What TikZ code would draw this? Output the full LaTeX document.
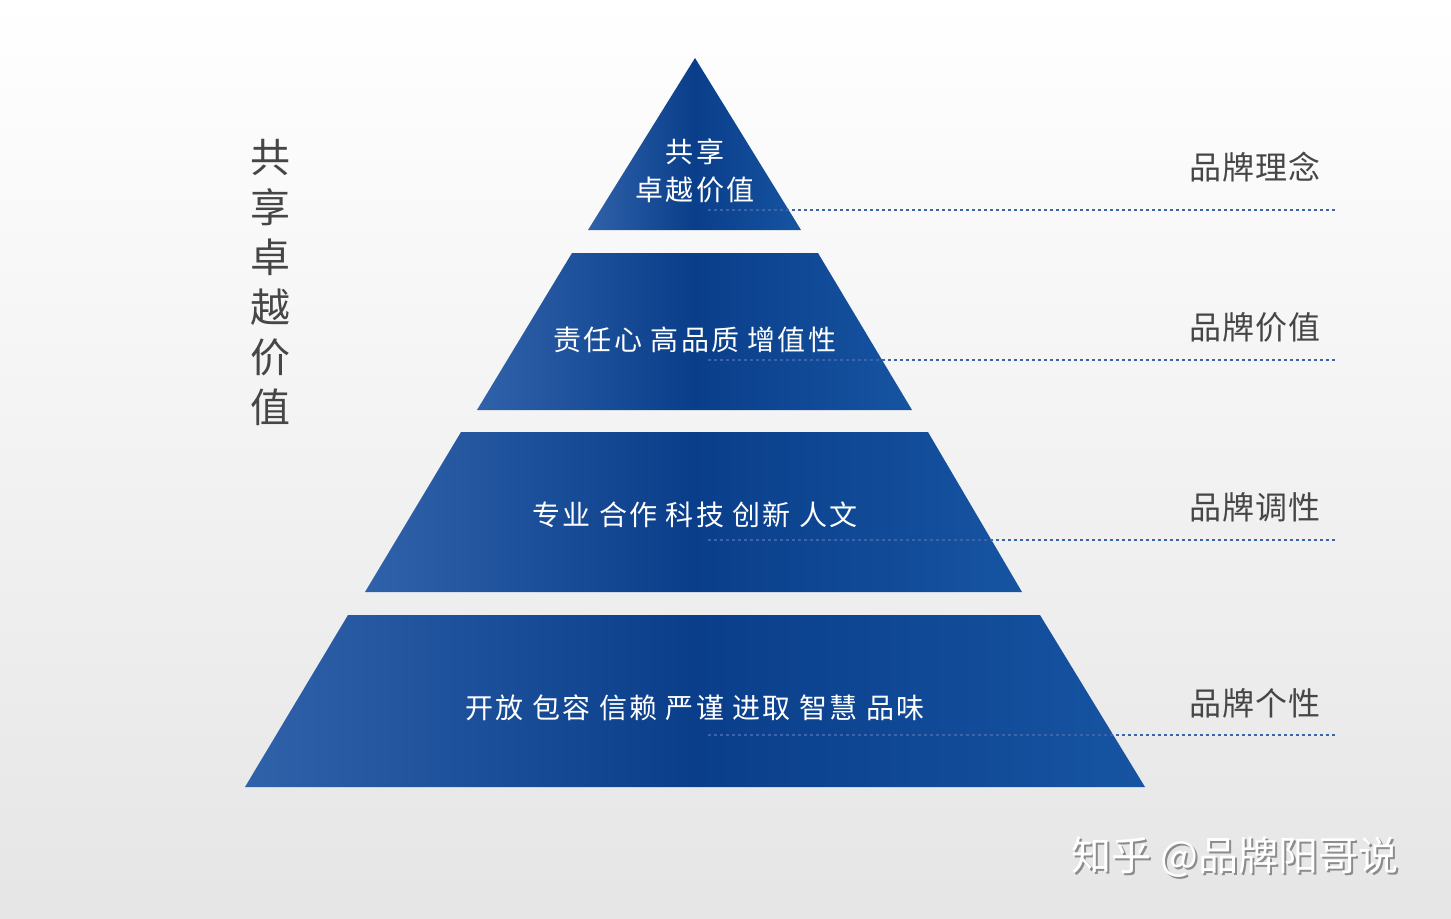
\documentclass[tikz,border=0pt]{standalone}
\usepackage{fontspec}
\setmainfont{Noto Sans CJK SC}
\definecolor{tierL}{RGB}{48,98,170}
\definecolor{tierM}{RGB}{10,62,138}
\definecolor{tierR}{RGB}{22,84,162}
\definecolor{dotc}{RGB}{60,100,170}
\definecolor{labc}{RGB}{70,70,70}
\begin{document}
\begin{tikzpicture}[x=0.5pt,y=-0.5pt,
  tier/.style={left color=tierL,right color=tierR,middle color=tierM,draw=none},
  ttext/.style={text=white,font=\fontsize{14}{17}\selectfont\addfontfeature{LetterSpace=8}},
  lab/.style={text=labc,font=\fontsize{16}{19}\selectfont\addfontfeature{LetterSpace=4}},
  dl/.style={dotc,dash pattern=on 1.5pt off 1.5pt,line width=1pt}]
\shade[top color=white,bottom color=white!90!black!100!blue] (0,0) rectangle (1451,918);
\useasboundingbox (0,0) rectangle (1451,918);
\shade[tier] (695,58) -- (801,230) -- (588,230) -- cycle;
\shade[tier] (572,253) -- (818,253) -- (912,410) -- (477,410) -- cycle;
\shade[tier] (461,432) -- (928,432) -- (1022,592) -- (365,592) -- cycle;
\shade[tier] (348,615) -- (1040,615) -- (1145,787) -- (245,787) -- cycle;
\node[ttext] (t1a) at (695,152) {共享};
\node[ttext] (t1b) at (695,190) {卓越价值};
\node[ttext] (t2) at (695,340) {责任心 高品质 增值性};
\node[ttext] (t3) at (695,515) {专业 合作 科技 创新 人文};
\node[ttext] (t4) at (695,708) {开放 包容 信赖 严谨 进取 智慧 品味};
\foreach \y in {210,360,540,735} \draw[dl] (708,\y) -- (1338,\y);
\node[lab] (l1) at (1255,167) {品牌理念};
\node[lab] (l2) at (1255,327) {品牌价值};
\node[lab] (l3) at (1255,507) {品牌调性};
\node[lab] (l4) at (1255,703) {品牌个性};
\node[text=labc,font=\fontsize{20}{25}\selectfont,align=center] (v) at (270,282) {共\\享\\卓\\越\\价\\值};
\node[text=black!45,font=\fontsize{20}{24}\selectfont] (wm0) at (1237,859) {知乎 @品牌阳哥说};
\node[text=white,font=\fontsize{20}{24}\selectfont] (wm) at (1235,857) {知乎 @品牌阳哥说};
\end{tikzpicture}
\end{document}
